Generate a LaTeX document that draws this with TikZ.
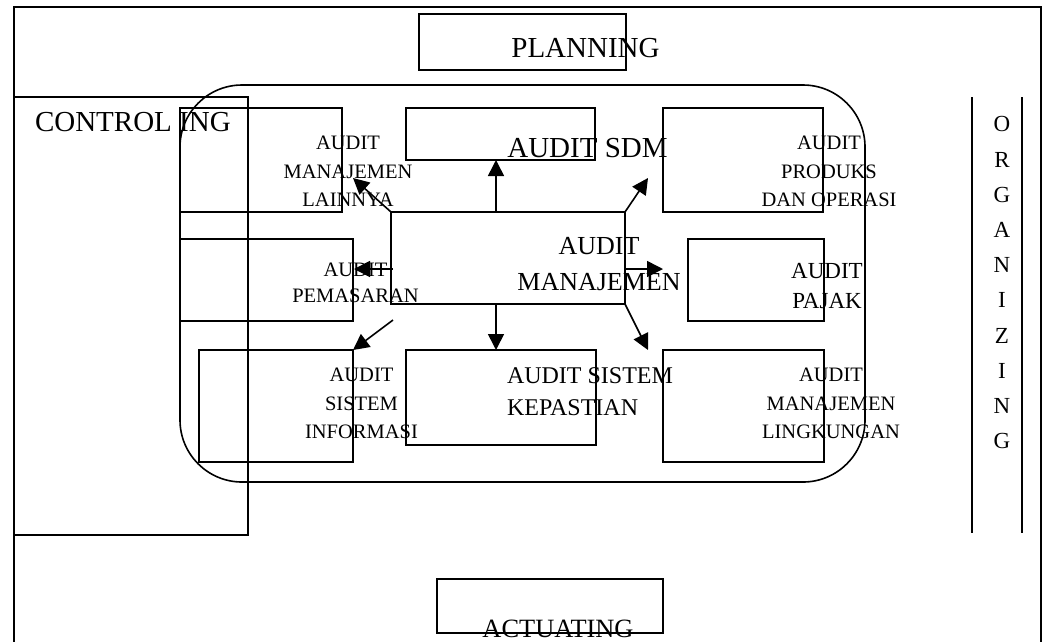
\documentclass[tikz,border=0pt]{standalone}
\usepackage{fontspec}
\setmainfont{Liberation Serif}
\usetikzlibrary{arrows.meta}
\tikzset{
  boxn/.style={draw, line width=1.6pt, inner sep=0pt, outer sep=0pt},
  lbl/.style={inner sep=0pt, outer sep=0pt, align=center},
  conn/.style={line width=1.6pt, -{Triangle[length=16pt,width=16pt]}},
}
\newcommand{\fs}[2]{\fontsize{#1pt}{#2pt}\selectfont}
\begin{document}
\begin{tikzpicture}[x=1pt,y=-1pt]
\useasboundingbox (0,0) rectangle (1048,641);
\clip (0,0) rectangle (1048,641);
% outer frame
\node[boxn, line width=2.4pt, minimum width=1027pt, minimum height=693.3pt] (frame) at (527.5,353.35) {};
% planning
\node[boxn, minimum width=207pt, minimum height=56pt] (plan) at (522.5,42) {};
\node[lbl, anchor=base, font=\fs{29}{34}] (planT) at (585.5,57) {PLANNING};
% controlling
\node[boxn, line width=2.2pt, minimum width=234pt, minimum height=438pt] (ctrl) at (131,316) {};
\node[lbl, anchor=base west, font=\fs{29}{34}] (ctrlT) at (35,131) {CONTROL ING};
% big rounded rectangle
\node[boxn, rounded corners=62pt, minimum width=685pt, minimum height=397pt] (round) at (522.5,283.5) {};
% boxes
\node[boxn, minimum width=162pt, minimum height=104pt] (lain) at (261,160) {};
\node[boxn, minimum width=189pt, minimum height=52pt] (sdm) at (500.5,134) {};
\node[boxn, minimum width=160pt, minimum height=104pt] (prod) at (743,160) {};
\node[boxn, minimum width=173pt, minimum height=82pt] (pem) at (266.5,280) {};
\node[boxn, minimum width=234pt, minimum height=92pt] (cent) at (508,258) {};
\node[boxn, minimum width=136pt, minimum height=82pt] (pajak) at (756,280) {};
\node[boxn, minimum width=154pt, minimum height=112pt] (info) at (276,406) {};
\node[boxn, minimum width=190pt, minimum height=95pt] (kep) at (501,397.5) {};
\node[boxn, minimum width=161pt, minimum height=112pt] (ling) at (743.5,406) {};
\node[boxn, minimum width=226pt, minimum height=54pt] (act) at (550,606) {};
% labels
\node[lbl, anchor=base, font=\fs{29}{34}] (sdmT) at (587.5,157) {AUDIT SDM};
\node[lbl, anchor=north, font=\fs{26}{36}] (centT) at (599,237.6) {AUDIT\\MANAJEMEN};
\node[lbl, anchor=north west, align=left, font=\fs{24}{32}] (kepT) at (507,368) {AUDIT SISTEM\\KEPASTIAN};
\node[lbl, anchor=north, font=\fs{23}{30}] (pajakT) at (827,263.6) {AUDIT\\PAJAK};
\node[lbl, anchor=north, font=\fs{20.5}{28.5}] (lainT) at (348,136.3) {AUDIT\\MANAJEMEN\\LAINNYA};
\node[lbl, anchor=north, font=\fs{20.5}{28.5}] (prodT) at (829,136.3) {AUDIT\\PRODUKS\\DAN OPERASI};
\node[lbl, anchor=north, font=\fs{20.5}{26}] (pemT) at (355.5,263) {AUDIT\\PEMASARAN};
\node[lbl, anchor=north, font=\fs{20.5}{28.5}] (infoT) at (361.5,368.3) {AUDIT\\SISTEM\\INFORMASI};
\node[lbl, anchor=north, font=\fs{20.5}{28.5}] (lingT) at (831,368.3) {AUDIT\\MANAJEMEN\\LINGKUNGAN};
\node[lbl, anchor=base, font=\fs{26.4}{30}] (actT) at (558,637.5) {ACTUATING};
% organizing
\coordinate (o1t) at (972,97);
\coordinate (o1b) at (972,533);
\coordinate (o2t) at (1022,97);
\coordinate (o2b) at (1022,533);
\draw[line width=2.2pt] (o1t) -- (o1b);
\draw[line width=2.2pt] (o2t) -- (o2b);
\node[lbl, anchor=north, font=\fs{23}{35.2}] (orgT) at (1002,116.6) {O\\R\\G\\A\\N\\I\\Z\\I\\N\\G};
% arrow coordinates
\coordinate (sUp) at (496,212);
\coordinate (tUp) at (496,160);
\coordinate (tUL) at (353,178);
\coordinate (tUR) at (648,178);
\coordinate (sL) at (393,269);
\coordinate (tL) at (354,269);
\coordinate (sR) at (625,269);
\coordinate (tR) at (663,269);
\coordinate (sLL) at (393,320);
\coordinate (tLL) at (353,350);
\coordinate (sD) at (496,304);
\coordinate (tD) at (496,350);
\coordinate (tLR) at (648,350);
% arrows
\draw[conn] (sUp) -- (tUp);
\draw[conn] (cent.north west) -- (tUL);
\draw[conn] (cent.north east) -- (tUR);
\draw[conn] (sL) -- (tL);
\draw[conn] (sR) -- (tR);
\draw[conn] (sLL) -- (tLL);
\draw[conn] (sD) -- (tD);
\draw[conn] (cent.south east) -- (tLR);
\end{tikzpicture}
\end{document}
